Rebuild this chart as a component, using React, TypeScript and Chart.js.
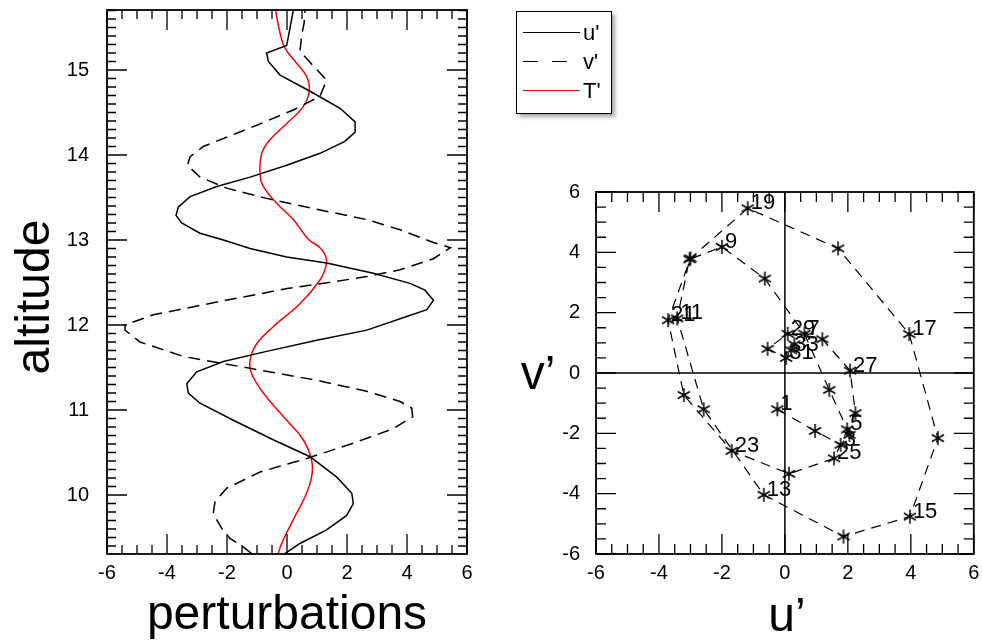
import React, { useEffect, useRef } from "react";
import { Chart, registerables } from "chart.js";

Chart.register(...registerables);

const FONT = "'Liberation Sans', Arial, Helvetica, sans-serif";

// ---- tick labels ----
const altitudeTicks = [10, 11, 12, 13, 14, 15];
const perturbationTicks = [-6, -4, -2, 0, 2, 4, 6];
const hodoTicks = [-6, -4, -2, 0, 2, 4, 6];

// ---- left panel: u' (solid) ----
const uAlt = [9.31, 9.43, 9.59, 9.76, 9.9, 10.02, 10.21, 10.45, 10.65, 10.88, 11.08, 11.2, 11.31, 11.45, 11.57, 11.69, 11.82, 11.94, 12.1, 12.18, 12.29, 12.41, 12.49, 12.61, 12.73, 12.8, 12.9, 13.0, 13.08, 13.2, 13.29, 13.39, 13.51, 13.63, 13.74, 13.88, 14.02, 14.16, 14.27, 14.39, 14.55, 14.75, 14.94, 15.1, 15.2, 15.29, 15.7];
const uVal = [-0.07, 0.43, 1.32, 1.99, 2.21, 2.16, 1.66, 0.77, -0.46, -1.79, -2.9, -3.29, -3.34, -3.01, -2.12, -0.68, 0.99, 2.66, 3.99, 4.66, 4.88, 4.6, 4.1, 2.88, 1.32, -0.01, -1.23, -2.12, -2.9, -3.51, -3.7, -3.62, -3.23, -2.34, -1.23, -0.01, 1.1, 1.93, 2.27, 2.27, 1.77, 0.77, -0.23, -0.62, -0.68, -0.01, 0.21];

// ---- left panel: v' (dashed) ----
const vAlt = [9.31, 9.39, 9.49, 9.61, 9.78, 9.92, 10.08, 10.27, 10.43, 10.61, 10.78, 10.92, 11.02, 11.1, 11.22, 11.35, 11.49, 11.63, 11.8, 11.94, 12.0, 12.12, 12.27, 12.36, 12.43, 12.5, 12.57, 12.65, 12.78, 12.91, 12.97, 13.12, 13.24, 13.37, 13.49, 13.61, 13.74, 13.88, 13.98, 14.1, 14.35, 14.53, 14.69, 14.88, 15.22, 15.43, 15.55, 15.7];
const vVal = [-1.18, -1.46, -1.9, -2.18, -2.46, -2.4, -2.01, -0.9, 0.66, 2.21, 3.54, 4.19, 4.16, 3.77, 2.66, 0.99, -1.23, -3.46, -4.9, -5.4, -5.4, -4.46, -2.34, -1.0, 0.0, 1.4, 2.66, 3.77, 4.88, 5.45, 4.88, 3.77, 2.66, 0.88, -0.68, -2.01, -2.9, -3.32, -3.23, -2.79, -1.01, 0.21, 1.1, 1.32, 0.43, 0.5, 0.57, 0.6];

// ---- left panel: T' (red) ----
const tAlt = [9.31, 9.43, 9.71, 9.98, 10.21, 10.41, 10.65, 10.88, 11.2, 11.43, 11.59, 11.78, 11.98, 12.25, 12.53, 12.69, 12.8, 12.91, 13.01, 13.24, 13.43, 13.63, 13.78, 14.02, 14.18, 14.37, 14.57, 14.75, 14.92, 15.08, 15.26, 15.43, 15.7];
const tVal = [-0.29, -0.18, 0.21, 0.6, 0.82, 0.82, 0.54, -0.01, -0.79, -1.18, -1.23, -1.01, -0.46, 0.43, 1.1, 1.3, 1.3, 1.1, 0.71, 0.21, -0.34, -0.79, -0.9, -0.84, -0.57, -0.01, 0.54, 0.74, 0.66, 0.32, -0.07, -0.23, -0.38];

// ---- right panel: hodograph ----
const hodoU = [-0.24, 0.96, 1.77, 2.05, 1.98, 1.41, 0.62, -0.64, -2.0, -3.03, -3.42, -2.58, -0.67, 1.86, 3.97, 4.86, 3.95, 1.69, -1.18, -3.0, -3.71, -3.21, -1.69, 0.13, 1.56, 2.24, 2.07, 1.19, 0.09, -0.55, 0.04, 0.3, 0.2];
const hodoV = [-1.2, -1.92, -2.38, -2.05, -1.87, -0.56, 1.3, 3.13, 4.18, 3.77, 1.81, -1.2, -4.04, -5.42, -4.76, -2.16, 1.29, 4.13, 5.46, 3.8, 1.75, -0.73, -2.58, -3.34, -2.83, -1.33, 0.08, 1.12, 1.3, 0.8, 0.5, 0.95, 0.75];
const hodoNumbers = hodoU.map((_, i) => i + 1);

type TitleSpec = { text: string; x: number; y: number; rotate?: boolean };
type FrameOpts = {
  xMinor: number; xMajor: number; yMinor: number; yMajor: number;
  minorLen: number; majorLen: number; zeroLines?: boolean; labels?: boolean;
  titles: TitleSpec[];
};

function stepsIn(min: number, max: number, step: number): number[] {
  const out: number[] = [];
  const k0 = Math.ceil(min / step - 1e-9);
  for (let k = k0; k * step <= max + 1e-9; k++) out.push(k * step);
  return out;
}
function isMajor(v: number, major: number) {
  return Math.abs(v / major - Math.round(v / major)) < 1e-6;
}

function makeFramePlugin(o: FrameOpts) {
  return {
    id: "frameTicks",
    beforeDatasetsDraw(chart: any) {
      if (!o.zeroLines) return;
      const { ctx, chartArea: a, scales } = chart;
      const x0 = scales.x.getPixelForValue(0);
      const y0 = scales.y.getPixelForValue(0);
      ctx.save();
      ctx.strokeStyle = "#000";
      ctx.lineWidth = 1.5;
      ctx.beginPath();
      ctx.moveTo(x0, a.top); ctx.lineTo(x0, a.bottom);
      ctx.moveTo(a.left, y0); ctx.lineTo(a.right, y0);
      ctx.stroke();
      ctx.restore();
    },
    afterDatasetsDraw(chart: any) {
      const { ctx, chartArea: a, scales } = chart;
      const xs = scales.x, ys = scales.y;
      ctx.save();
      ctx.strokeStyle = "#000";
      ctx.lineWidth = 1.3;
      ctx.beginPath();
      for (const v of stepsIn(xs.min, xs.max, o.xMinor)) {
        const p = xs.getPixelForValue(v);
        const L = isMajor(v, o.xMajor) ? o.majorLen : o.minorLen;
        ctx.moveTo(p, a.bottom); ctx.lineTo(p, a.bottom - L);
        ctx.moveTo(p, a.top); ctx.lineTo(p, a.top + L);
      }
      for (const v of stepsIn(ys.min, ys.max, o.yMinor)) {
        const p = ys.getPixelForValue(v);
        const L = isMajor(v, o.yMajor) ? o.majorLen : o.minorLen;
        ctx.moveTo(a.left, p); ctx.lineTo(a.left + L, p);
        ctx.moveTo(a.right, p); ctx.lineTo(a.right - L, p);
      }
      ctx.stroke();
      ctx.lineWidth = 1.8;
      ctx.strokeRect(a.left, a.top, a.right - a.left, a.bottom - a.top);
      ctx.fillStyle = "#000";
      if (o.labels) {
        ctx.font = "22px " + FONT;
        ctx.textAlign = "left";
        ctx.textBaseline = "alphabetic";
        hodoNumbers.forEach((n, i) => {
          if (n % 2 === 0) return;
          const px = xs.getPixelForValue(hodoU[i]);
          const py = ys.getPixelForValue(hodoV[i]);
          ctx.fillText(String(n), px + 3, py + 1);
        });
      }
      // axis titles
      ctx.font = "48px " + FONT;
      ctx.textAlign = "center";
      ctx.textBaseline = "alphabetic";
      for (const t of o.titles) {
        if (t.rotate) {
          ctx.save();
          ctx.translate(t.x, t.y);
          ctx.rotate(-Math.PI / 2);
          ctx.fillText(t.text, 0, 0);
          ctx.restore();
        } else {
          ctx.fillText(t.text, t.x, t.y);
        }
      }
      ctx.restore();
    },
  };
}

function makeStar(): HTMLCanvasElement {
  const c = document.createElement("canvas");
  c.width = 16; c.height = 16;
  const g = c.getContext("2d")!;
  g.strokeStyle = "#000";
  g.lineWidth = 1.5;
  const r = 7;
  g.beginPath();
  for (const ang of [90, 30, -30]) {
    const t = (ang * Math.PI) / 180;
    g.moveTo(8 + r * Math.cos(t), 8 - r * Math.sin(t));
    g.lineTo(8 - r * Math.cos(t), 8 + r * Math.sin(t));
  }
  g.stroke();
  return c;
}

const tickFont = { family: FONT, size: 20 };

function zeroPad(s: any) {
  s.paddingTop = 0; s.paddingBottom = 0; s.paddingLeft = 0; s.paddingRight = 0;
}

export default function App() {
  const leftRef = useRef<HTMLCanvasElement>(null);
  const rightRef = useRef<HTMLCanvasElement>(null);

  useEffect(() => {
    Chart.defaults.font.family = FONT;
    Chart.defaults.color = "#000";

    const left = new Chart(leftRef.current!, {
      type: "scatter",
      data: {
        datasets: [
          {
            label: "u'",
            data: uAlt.map((a, i) => ({ x: uVal[i], y: a })),
            showLine: true, borderColor: "#000", borderWidth: 1.5,
            pointRadius: 0, tension: 0,
          },
          {
            label: "v'",
            data: vAlt.map((a, i) => ({ x: vVal[i], y: a })),
            showLine: true, borderColor: "#000", borderWidth: 1.5,
            borderDash: [12, 7], pointRadius: 0, tension: 0,
          },
          {
            label: "T'",
            data: tAlt.map((a, i) => ({ x: tVal[i], y: a })),
            showLine: true, borderColor: "#ff0000", borderWidth: 1.5,
            pointRadius: 0, tension: 0.4,
          },
        ],
      },
      options: {
        animation: false,
        responsive: false,
        events: [],
        layout: { padding: { left: 0, top: 10, right: 23, bottom: 0 } },
        plugins: { legend: { display: false }, tooltip: { enabled: false } },
        scales: {
          x: {
            type: "linear", min: -6, max: 6,
            grid: { display: false, drawTicks: false },
            border: { display: false },
            afterBuildTicks: (s: any) => { s.ticks = perturbationTicks.map((v) => ({ value: v })); },
            afterFit: (s: any) => { s.height = 87; zeroPad(s); },
            ticks: { font: tickFont, color: "#000", padding: 7, maxRotation: 0, callback: (v: any) => String(v) },
          },
          y: {
            type: "linear", min: 9.306, max: 15.706,
            grid: { display: false, drawTicks: false },
            border: { display: false },
            afterBuildTicks: (s: any) => { s.ticks = altitudeTicks.map((v) => ({ value: v })); },
            afterFit: (s: any) => { s.width = 107; zeroPad(s); },
            ticks: { font: tickFont, color: "#000", padding: 18, callback: (v: any) => String(v) },
          },
        },
      },
      plugins: [makeFramePlugin({
        xMinor: 0.5, xMajor: 2, yMinor: 0.1, yMajor: 1, minorLen: 9, majorLen: 20,
        titles: [
          { text: "perturbations", x: 287, y: 629 },
          { text: "altitude", x: 49, y: 297, rotate: true },
        ],
      })],
    } as any);

    const star = makeStar();
    const right = new Chart(rightRef.current!, {
      type: "scatter",
      data: {
        datasets: [
          {
            label: "hodograph",
            data: hodoU.map((u, i) => ({ x: u, y: hodoV[i] })),
            showLine: true, borderColor: "#000", borderWidth: 1.2,
            borderDash: [10, 7], tension: 0,
            pointStyle: star as any, pointRadius: 7,
          },
        ],
      },
      options: {
        animation: false,
        responsive: false,
        events: [],
        layout: { padding: { left: 0, top: 192, right: 5, bottom: 0 } },
        plugins: { legend: { display: false }, tooltip: { enabled: false } },
        scales: {
          x: {
            type: "linear", min: -6, max: 6,
            grid: { display: false, drawTicks: false },
            border: { display: false },
            afterBuildTicks: (s: any) => { s.ticks = hodoTicks.map((v) => ({ value: v })); },
            afterFit: (s: any) => { s.height = 87; zeroPad(s); },
            ticks: { font: tickFont, color: "#000", padding: 7, maxRotation: 0, callback: (v: any) => String(v) },
          },
          y: {
            type: "linear", min: -6, max: 6,
            grid: { display: false, drawTicks: false },
            border: { display: false },
            afterBuildTicks: (s: any) => { s.ticks = hodoTicks.map((v) => ({ value: v })); },
            afterFit: (s: any) => { s.width = 106; zeroPad(s); },
            ticks: { font: tickFont, color: "#000", padding: 16, callback: (v: any) => String(v) },
          },
        },
      },
      plugins: [makeFramePlugin({
        xMinor: 0.5, xMajor: 2, yMinor: 0.5, yMajor: 2, minorLen: 10, majorLen: 20, zeroLines: true, labels: true,
        titles: [
          { text: "u\u2019", x: 297, y: 631 },
          { text: "v\u2019", x: 48, y: 389 },
        ],
      })],
    } as any);

    return () => { left.destroy(); right.destroy(); };
  }, []);

  const legendRow = (top: number, label: string, color: string, dashed: boolean) => (
    <div style={{ position: "absolute", left: 0, top, width: 95, height: 24 }}>
      {dashed ? (
        <>
          <div style={{ position: "absolute", left: 6, top: 11, width: 15, borderTop: "1.5px solid " + color }} />
          <div style={{ position: "absolute", left: 35, top: 11, width: 15, borderTop: "1.5px solid " + color }} />
        </>
      ) : (
        <div style={{ position: "absolute", left: 6, top: 11, width: 57, borderTop: "1.5px solid " + color }} />
      )}
      <div style={{ position: "absolute", left: 66, top: 0, lineHeight: "24px", fontSize: 22, fontFamily: FONT, color: "#000" }}>{label}</div>
    </div>
  );

  return (
    <div style={{ position: "absolute", left: 0, top: 0, width: 982, height: 641, background: "#fff", overflow: "hidden" }}>
      <canvas ref={leftRef} width={490} height={641} style={{ position: "absolute", left: 0, top: 0, display: "block" }} />
      <canvas ref={rightRef} width={492} height={641} style={{ position: "absolute", left: 490, top: 0, display: "block" }} />
      <div style={{ position: "absolute", left: 516, top: 11, width: 96, height: 103, boxSizing: "border-box", border: "1.5px solid #000", background: "#fff", boxShadow: "3px 3px 4px rgba(0,0,0,0.35)" }}>
        {legendRow(9, "u'", "#000", false)}
        {legendRow(38, "v'", "#000", true)}
        {legendRow(67, "T'", "#ff0000", false)}
      </div>
    </div>
  );
}
